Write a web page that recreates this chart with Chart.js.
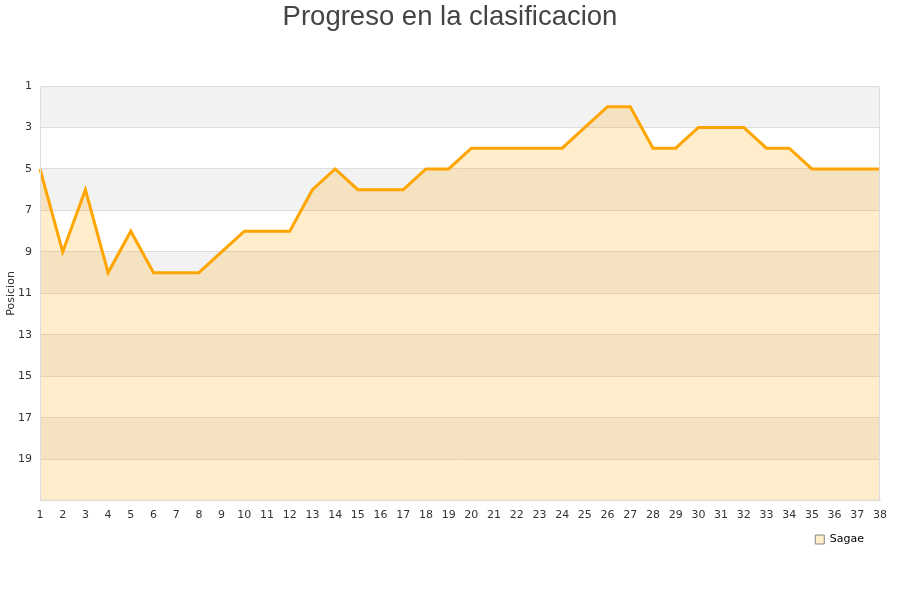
<!DOCTYPE html>
<html>
<head>
<meta charset="utf-8">
<script src="https://cdn.jsdelivr.net/npm/chart.js@4"></script>
<style>
html,body{margin:0;padding:0;background:#fff;}
#wrap{width:900px;height:600px;}
</style>
</head>
<body>
<div id="wrap"><canvas id="c" width="900" height="600"></canvas></div>
<script>
const jornadas = ["1","2","3","4","5","6","7","8","9","10","11","12","13","14","15","16","17","18","19","20","21","22","23","24","25","26","27","28","29","30","31","32","33","34","35","36","37","38"];
const posiciones = [5,9,6,10,8,10,10,10,9,8,8,8,6,5,6,6,6,5,5,4,4,4,4,4,3,2,2,4,4,3,3,3,4,4,5,5,5,5];
const equipo = "Sagae";
const titulo = "Progreso en la clasificacion";
const ejeY = "Posicion";
const posMin = 1, posMax = 21;

const bandPlugin = {
  id: 'bands',
  afterLayout(chart) {
    if (chart.titleBlock) { chart.titleBlock.left = 0; chart.titleBlock.right = chart.width; }
  },
  beforeDraw(chart) {
    const {ctx, chartArea, scales} = chart;
    const y = scales.y;
    ctx.save();
    for (let v = posMin; v < posMax; v += 2) {
      const idx = (v - posMin) / 2;
      const y1 = y.getPixelForValue(v), y2 = y.getPixelForValue(v + 2);
      ctx.fillStyle = idx % 2 === 0 ? '#f2f2f2' : '#ffffff';
      ctx.fillRect(chartArea.left, Math.min(y1, y2), chartArea.right - chartArea.left, Math.abs(y2 - y1));
    }
    ctx.restore();
  }
};

new Chart(document.getElementById('c'), {
  type: 'line',
  data: {
    labels: jornadas,
    datasets: [{
      label: equipo,
      data: posiciones,
      borderColor: '#ffa500',
      backgroundColor: 'rgba(255,165,0,0.2)',
      borderWidth: 3,
      pointRadius: 0,
      tension: 0,
      fill: {value: posMax}
    }]
  },
  options: {
    responsive: false,
    animation: false,
    devicePixelRatio: 1,
    layout: {padding: {left: 0, right: 20, top: 0, bottom: 45}},
    plugins: {
      title: {
        display: true,
        text: titulo,
        color: '#444',
        font: {family: 'Liberation Sans', size: 27.5, weight: 'normal'},
        padding: {top: 1, bottom: 52}
      },
      legend: {
        position: 'bottom',
        align: 'end',
        labels: {
          boxWidth: 9,
          boxHeight: 9,
          padding: 16,
          color: '#333',
          font: {family: 'DejaVu Sans', size: 11},
          generateLabels: (chart) => [{
            text: equipo, fillStyle: '#ffedcc', strokeStyle: '#888', lineWidth: 1, datasetIndex: 0
          }]
        }
      },
      tooltip: {enabled: false}
    },
    scales: {
      x: {
        offset: false,
        afterFit(s) { s.height = s.height - 12; },
        grid: {display: false, drawTicks: false},
        border: {color: '#ddd'},
        ticks: {color: '#333', font: {family: 'DejaVu Sans', size: 11}, maxRotation: 0, autoSkip: false, padding: 8}
      },
      y: {
        reverse: true,
        min: posMin,
        max: posMax,
        afterFit(s) { s.width = 40; },
        afterBuildTicks(s) {
          const t = [];
          for (let v = posMin; v <= posMax; v += 2) t.push({value: v});
          s.ticks = t;
        },
        title: {display: true, text: ejeY, color: '#333', font: {family: 'DejaVu Sans', size: 11}, padding: {top: 5, bottom: 0}},
        grid: {color: '#dddddd', drawTicks: false},
        border: {color: '#ddd'},
        ticks: {
          color: '#333',
          font: {family: 'DejaVu Sans', size: 11},
          padding: 8,
          callback: (v) => v === posMax ? '' : v
        }
      }
    }
  },
  plugins: [bandPlugin, {
    id: 'frame',
    afterDatasetsDraw(chart) {
      const {ctx, chartArea: a} = chart;
      ctx.save();
      ctx.strokeStyle = '#ddd';
      ctx.lineWidth = 1;
      ctx.strokeRect(a.left + 0.5, a.top + 0.5, a.right - a.left - 1, a.bottom - a.top - 1);
      ctx.restore();
    }
  }]
});
</script>
</body>
</html>
